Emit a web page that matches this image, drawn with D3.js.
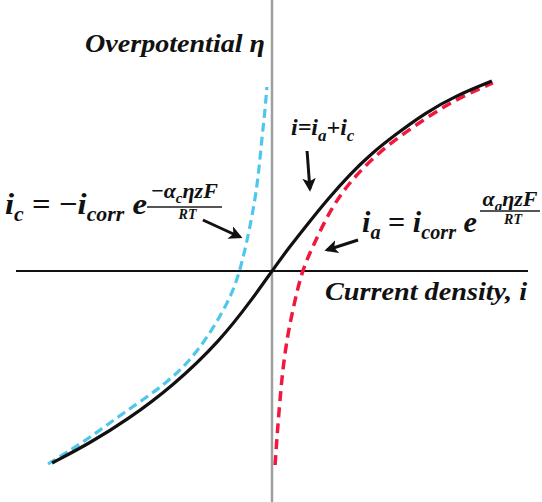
<!DOCTYPE html>
<html>
<head>
<meta charset="utf-8">
<script src="https://cdn.jsdelivr.net/npm/d3@7"></script>
<style>
  body { margin: 0; background: #fff; }
  text { font-family: "Liberation Serif", "DejaVu Serif", serif; font-weight: bold; font-style: italic; fill: #111; }
</style>
</head>
<body>
<div id="chart"></div>
<script>
// Points: current density i (x) vs overpotential eta (y), arbitrary units
var totalI   = [-0.859, -0.711, -0.566, -0.387, -0.203, -0.074, 0, 0.062, 0.152, 0.215, 0.305, 0.391, 0.48, 0.598, 0.715, 0.859];
var totalEta = [-0.96, -0.86, -0.745, -0.575, -0.35, -0.135, 0, 0.11, 0.255, 0.355, 0.485, 0.59, 0.68, 0.79, 0.875, 0.95];

var anodicI   = [0.012, 0.02, 0.031, 0.043, 0.062, 0.09, 0.117, 0.16, 0.227, 0.305, 0.422, 0.539, 0.656, 0.754, 0.863];
var anodicEta = [-0.97, -0.82, -0.645, -0.48, -0.31, -0.145, 0, 0.125, 0.305, 0.45, 0.6, 0.71, 0.81, 0.88, 0.94];

var cathodicI   = [-0.875, -0.723, -0.582, -0.406, -0.281, -0.164, -0.125, -0.094, -0.066, -0.051, -0.039, -0.027, -0.02];
var cathodicEta = [-0.965, -0.845, -0.71, -0.56, -0.395, -0.145, 0, 0.17, 0.355, 0.505, 0.67, 0.805, 0.92];

var axisLabels = ["Overpotential η", "Current density, i"];

var width = 542, height = 502;
var svg = d3.select("#chart").append("svg").attr("width", width).attr("height", height);

var x = d3.scaleLinear().domain([-1, 1]).range([16, 528]);
var y = d3.scaleLinear().domain([-1, 1]).range([471, 71]);

function zip(a, b){ return a.map(function(v, i){ return [v, b[i]]; }); }

// Axes
svg.append("line").attr("x1", x(0)).attr("x2", x(0)).attr("y1", 0).attr("y2", height)
   .attr("stroke", "#9a9fa0").attr("stroke-width", 2.5);
svg.append("line").attr("x1", x(-1)).attr("x2", x(1)).attr("y1", y(0)).attr("y2", y(0))
   .attr("stroke", "#111").attr("stroke-width", 2);

var line = d3.line().x(function(d){ return x(d[0]); }).y(function(d){ return y(d[1]); })
             .curve(d3.curveBasis);

svg.append("path").datum(zip(cathodicI, cathodicEta)).attr("d", line)
   .attr("fill", "none").attr("stroke", "#4fc6ec").attr("stroke-width", 3.2)
   .attr("stroke-dasharray", "9,5");
svg.append("path").datum(zip(anodicI, anodicEta)).attr("d", line)
   .attr("fill", "none").attr("stroke", "#f0183c").attr("stroke-width", 3.5)
   .attr("stroke-dasharray", "10,6");
svg.append("path").datum(zip(totalI, totalEta)).attr("d", line)
   .attr("fill", "none").attr("stroke", "#111").attr("stroke-width", 3.2);

// Axis titles
svg.append("text").attr("x", 85).attr("y", 52).attr("font-size", 26)
   .attr("textLength", 180).attr("lengthAdjust", "spacingAndGlyphs").text(axisLabels[0]);
svg.append("text").attr("x", 325).attr("y", 300).attr("font-size", 25)
   .attr("textLength", 202).attr("lengthAdjust", "spacingAndGlyphs").text(axisLabels[1]);

// Arrow marker
svg.append("defs").append("marker").attr("id", "head")
   .attr("viewBox", "0 0 10 10").attr("refX", 8).attr("refY", 5)
   .attr("markerWidth", 4.5).attr("markerHeight", 4.5).attr("orient", "auto")
   .append("path").attr("d", "M0,0 L10,5 L0,10 L2.5,5 Z").attr("fill", "#111");

function arrow(x1, y1, x2, y2){
  svg.append("line").attr("x1", x(x1)).attr("y1", y(y1)).attr("x2", x(x2)).attr("y2", y(y2))
     .attr("stroke", "#111").attr("stroke-width", 3).attr("marker-end", "url(#head)");
}
arrow(0.137, 0.6, 0.148, 0.41);
arrow(-0.27, 0.255, -0.125, 0.17);
arrow(0.336, 0.155, 0.215, 0.105);

// i = ia + ic label
var t = svg.append("text").attr("x", 291).attr("y", 135).attr("font-size", 24);
t.append("tspan").text("i=i");
t.append("tspan").attr("dy", 6).attr("font-size", 17).text("a");
t.append("tspan").attr("dy", -6).text("+i");
t.append("tspan").attr("dy", 6).attr("font-size", 17).text("c");

// Current equations: i = ±icorr e^(±alpha eta zF / RT)
function eq(x0, yb, len, sub, sign, fx, fw, numY, lineY, rtY){
  var e = svg.append("text").attr("x", x0).attr("y", yb).attr("font-size", 30)
             .attr("textLength", len).attr("lengthAdjust", "spacingAndGlyphs");
  e.append("tspan").text("i");
  e.append("tspan").attr("dy", 7).attr("font-size", 20).text(sub);
  e.append("tspan").attr("dy", -7).attr("font-style", "normal").text(" = " + sign);
  e.append("tspan").text("i");
  e.append("tspan").attr("dy", 7).attr("font-size", 20).text("corr");
  e.append("tspan").attr("dy", -7).text(" e");
  var n = svg.append("text").attr("x", fx + fw / 2).attr("y", yb + numY)
             .attr("font-size", 22).attr("text-anchor", "middle");
  if (sign) n.append("tspan").attr("font-style", "normal").text(sign);
  n.append("tspan").text("α");
  n.append("tspan").attr("dy", 5).attr("font-size", 15).text(sub);
  n.append("tspan").attr("dy", -5).text("ηzF");
  svg.append("line").attr("x1", fx).attr("x2", fx + fw).attr("y1", yb + lineY).attr("y2", yb + lineY)
     .attr("stroke", "#555").attr("stroke-width", 2);
  svg.append("text").attr("x", fx + fw / 2 + 3).attr("y", yb + rtY).attr("font-size", 14)
     .attr("text-anchor", "middle").text("RT");
}
eq(5, 214, 142, "c", "−", 147, 75, -16, -7, 5);
eq(362, 232, 115, "a", "", 480, 60, -26, -21, -8);
</script>
</body>
</html>
